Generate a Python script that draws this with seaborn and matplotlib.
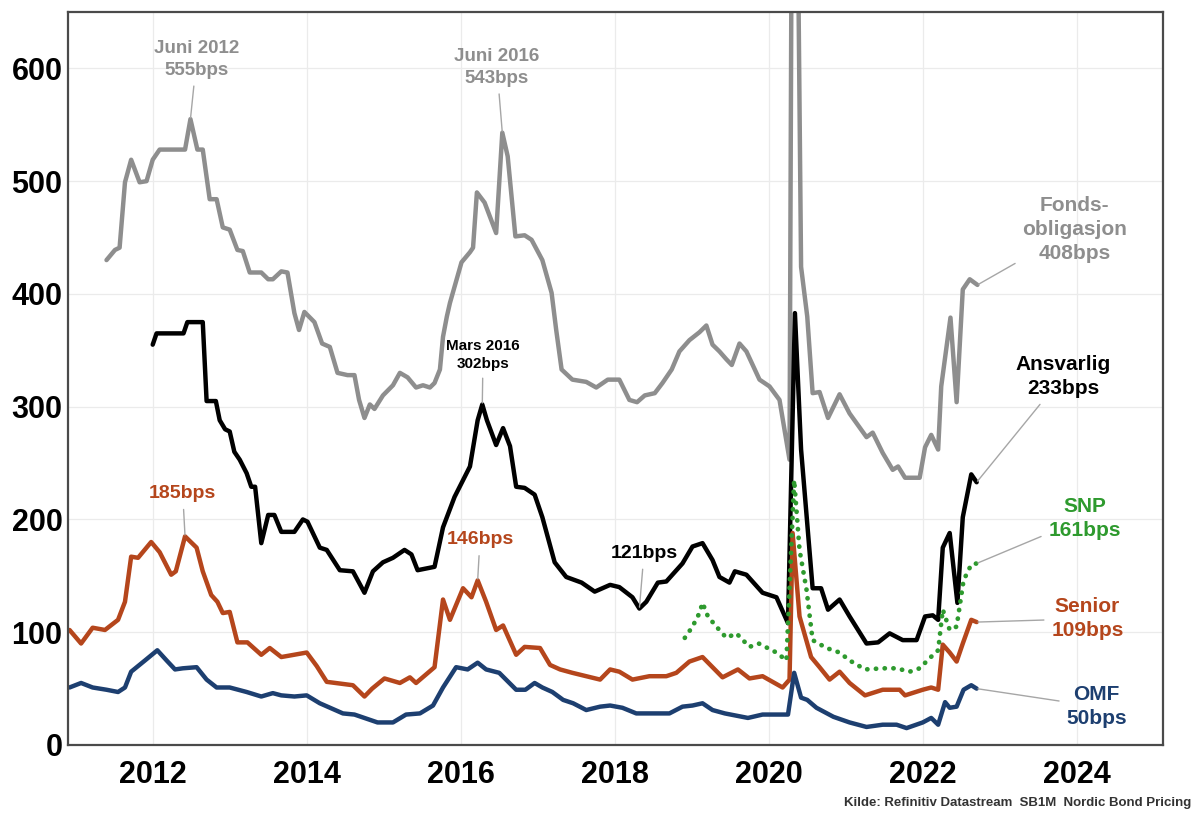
import matplotlib
matplotlib.use("Agg")
import matplotlib.pyplot as plt
import pandas as pd
import seaborn as sns

# Credit spreads (bps) for Norwegian bank bonds, decimal-year dates
fonds_x = [2011.40, 2011.51, 2011.57, 2011.64, 2011.72, 2011.83, 2011.92, 2012.00, 2012.09, 2012.42,
           2012.49, 2012.58, 2012.65, 2012.74, 2012.83, 2012.91, 2013.00, 2013.10, 2013.17, 2013.26,
           2013.41, 2013.50, 2013.56, 2013.67, 2013.75, 2013.84, 2013.90, 2013.97,
           2014.10, 2014.20, 2014.30, 2014.40, 2014.53, 2014.62, 2014.68, 2014.75, 2014.82, 2014.88,
           2014.99, 2015.12, 2015.21, 2015.31, 2015.42, 2015.51, 2015.60, 2015.66, 2015.73, 2015.77,
           2015.82, 2015.86,
           2016.01, 2016.12, 2016.16, 2016.21, 2016.31, 2016.46, 2016.54, 2016.61, 2016.71, 2016.83,
           2016.92, 2017.06, 2017.18, 2017.24, 2017.31, 2017.45, 2017.63, 2017.76, 2017.91, 2018.06,
           2018.19,
           2018.29, 2018.39, 2018.52, 2018.62, 2018.74, 2018.84, 2018.97, 2019.10, 2019.19, 2019.27,
           2019.36, 2019.45, 2019.52, 2019.62, 2019.71,
           2019.88, 2020.01, 2020.14, 2020.27, 2020.30, 2020.37, 2020.42, 2020.50, 2020.57, 2020.66,
           2020.77, 2020.92, 2021.05, 2021.27, 2021.35, 2021.48, 2021.61, 2021.68, 2021.77, 2021.96,
           2022.03, 2022.11, 2022.20, 2022.24, 2022.36, 2022.44, 2022.52, 2022.61, 2022.71]
fonds_y = [430, 439, 441, 499, 519, 499, 500, 519, 528, 528,
           555, 528, 528, 484, 484, 459, 457, 439, 438, 419,
           419, 413, 413, 420, 419, 383, 368, 384,
           375, 356, 353, 330, 328, 328, 306, 290, 302, 298,
           310, 319, 330, 326, 317, 319, 317, 321, 333, 362,
           380, 392,
           428, 437, 441, 490, 481, 454, 543, 522, 451, 452,
           448, 430, 401, 368, 333, 324, 322, 317, 324, 324,
           306,
           304, 310, 312, 321, 333, 349, 359, 366, 372, 355,
           349, 342, 337, 356, 349,
           324, 318, 306, 253, 780, 780, 424, 380, 312, 313,
           290, 311, 294, 273, 277, 259, 244, 247, 237, 237,
           264, 275, 262, 318, 379, 304, 404, 413, 408]

ansv_x = [2012.00, 2012.05, 2012.40, 2012.45, 2012.65, 2012.70, 2012.82, 2012.87, 2012.94, 2013.00,
          2013.06, 2013.13, 2013.22, 2013.28, 2013.33, 2013.41, 2013.50, 2013.58, 2013.67, 2013.84,
          2013.95, 2014.01, 2014.17, 2014.26, 2014.43, 2014.60, 2014.75, 2014.86, 2014.99, 2015.12,
          2015.27, 2015.36, 2015.44, 2015.66, 2015.77, 2015.92, 2016.12, 2016.22, 2016.28, 2016.34,
          2016.46, 2016.55, 2016.64, 2016.72, 2016.83, 2016.96, 2017.06, 2017.22, 2017.37, 2017.57,
          2017.74, 2017.94, 2018.06, 2018.23, 2018.32, 2018.41, 2018.56, 2018.67, 2018.88, 2019.01,
          2019.14, 2019.27, 2019.36, 2019.49, 2019.56, 2019.71, 2019.92, 2020.10, 2020.25, 2020.34,
          2020.42, 2020.57, 2020.68, 2020.77, 2020.92, 2021.05, 2021.27, 2021.42, 2021.57, 2021.74,
          2021.92, 2022.03, 2022.13, 2022.20, 2022.26, 2022.35, 2022.45, 2022.52, 2022.63, 2022.70]
ansv_y = [355, 365, 365, 375, 375, 305, 305, 288, 280, 278,
          260, 253, 241, 229, 229, 179, 204, 204, 189, 189,
          200, 198, 175, 173, 155, 154, 135, 154, 162, 166,
          173, 169, 155, 158, 193, 220, 247, 288, 302, 288,
          266, 281, 265, 229, 228, 222, 202, 162, 149, 144,
          136, 142, 140, 131, 121, 127, 144, 145, 161, 176,
          179, 164, 149, 144, 154, 151, 135, 131, 108, 383,
          262, 139, 139, 120, 129, 114, 90, 91, 99, 93,
          93, 114, 115, 111, 175, 188, 126, 202, 240, 233]

senior_x = [2010.92, 2011.07, 2011.22, 2011.38, 2011.55, 2011.64, 2011.72, 2011.81, 2011.98, 2012.09,
            2012.24, 2012.30, 2012.42, 2012.57, 2012.65, 2012.76, 2012.84, 2012.91, 2013.00, 2013.10,
            2013.23, 2013.41, 2013.52, 2013.67, 2014.00, 2014.13, 2014.26, 2014.60, 2014.75, 2014.85,
            2015.01, 2015.21, 2015.34, 2015.42, 2015.66, 2015.77, 2015.86, 2016.03, 2016.14, 2016.22,
            2016.33, 2016.46, 2016.55, 2016.72, 2016.83, 2017.03, 2017.16, 2017.29, 2017.45, 2017.63,
            2017.81, 2017.94, 2018.06, 2018.23, 2018.45, 2018.67, 2018.80, 2018.97, 2019.14, 2019.27,
            2019.40, 2019.60, 2019.75, 2019.92, 2020.18, 2020.27, 2020.31, 2020.40, 2020.55, 2020.66,
            2020.79, 2020.92, 2021.05, 2021.25, 2021.48, 2021.70, 2021.77, 2022.00, 2022.11, 2022.20,
            2022.26, 2022.35, 2022.44, 2022.52, 2022.63, 2022.70]
senior_y = [102, 90, 104, 102, 111, 127, 167, 166, 180, 171,
            151, 154, 185, 175, 154, 133, 127, 117, 118, 91,
            91, 80, 86, 78, 82, 70, 56, 53, 43, 50,
            59, 55, 60, 55, 69, 129, 111, 139, 131, 146,
            127, 102, 106, 80, 87, 86, 71, 67, 64, 61,
            58, 67, 65, 58, 61, 61, 64, 74, 78, 69,
            60, 67, 59, 61, 51, 58, 188, 114, 78, 69,
            58, 65, 55, 44, 49, 49, 44, 49, 51, 49,
            89, 82, 74, 90, 111, 109]

snp_x = [2018.91, 2019.01, 2019.10, 2019.14, 2019.21, 2019.32, 2019.45, 2019.58, 2019.75, 2019.87,
         2020.10, 2020.23, 2020.33, 2020.40, 2020.49, 2020.57, 2020.75, 2020.92, 2021.05, 2021.25,
         2021.48, 2021.66, 2021.83, 2021.96, 2022.09, 2022.20, 2022.26, 2022.35, 2022.44, 2022.53,
         2022.63, 2022.70]
snp_y = [95, 105, 117, 126, 114, 105, 95, 99, 87, 90,
         82, 75, 235, 173, 138, 93, 86, 82, 75, 67,
         68, 68, 65, 68, 77, 84, 120, 102, 105, 146,
         160, 161]

omf_x = [2010.92, 2011.07, 2011.22, 2011.40, 2011.55, 2011.64, 2011.72, 2011.90, 2012.06, 2012.18,
         2012.29, 2012.39, 2012.57, 2012.70, 2012.83, 2013.00, 2013.22, 2013.41, 2013.56, 2013.67,
         2013.84, 2014.00, 2014.17, 2014.47, 2014.62, 2014.92, 2015.12, 2015.29, 2015.47, 2015.64,
         2015.77, 2015.94, 2016.09, 2016.22, 2016.33, 2016.50, 2016.72, 2016.84, 2016.96, 2017.06,
         2017.19, 2017.33, 2017.46, 2017.63, 2017.81, 2017.94, 2018.10, 2018.28, 2018.50, 2018.71,
         2018.88, 2019.01, 2019.14, 2019.27, 2019.43, 2019.73, 2019.92, 2020.10, 2020.25, 2020.33,
         2020.42, 2020.50, 2020.62, 2020.84, 2021.05, 2021.27, 2021.48, 2021.66, 2021.79, 2022.00,
         2022.11, 2022.20, 2022.29, 2022.35, 2022.44, 2022.53, 2022.63, 2022.70]
omf_y = [51, 55, 51, 49, 47, 51, 65, 75, 84, 75,
         67, 68, 69, 58, 51, 51, 47, 43, 46, 44,
         43, 44, 37, 28, 27, 20, 20, 27, 28, 35,
         51, 69, 67, 73, 67, 64, 49, 49, 55, 51,
         47, 40, 37, 31, 34, 35, 33, 28, 28, 28,
         34, 35, 37, 31, 28, 24, 27, 27, 27, 64,
         42, 40, 33, 25, 20, 16, 18, 18, 15, 20,
         24, 18, 38, 33, 34, 49, 53, 50]

year_ticks = [2012, 2014, 2016, 2018, 2020, 2022, 2024]
bps_ticks = [0, 100, 200, 300, 400, 500, 600]

GREY = "#8e8e8e"
BLACK = "#000000"
ORANGE = "#b5461c"
NAVY = "#1d3f70"
GREEN = "#2e9a2e"
LEADER = "#a6a6a6"

sns.set_theme(style="whitegrid")
plt.rcParams["font.family"] = ["Liberation Sans", "DejaVu Sans"]

fig = plt.figure(figsize=(11.95, 8.19), dpi=100)
ax = fig.add_axes([68 / 1195, 74 / 819, (1163 - 68) / 1195, (745 - 12) / 819])


def draw(xs, ys, color, **kw):
    df = pd.DataFrame({"year": xs, "bps": ys})
    sns.lineplot(data=df, x="year", y="bps", ax=ax, color=color, sort=False,
                 estimator=None, linewidth=kw.pop("linewidth", 3.2), **kw)


draw(fonds_x, fonds_y, GREY, solid_joinstyle="round")
draw(ansv_x, ansv_y, BLACK, solid_joinstyle="round")
draw(senior_x, senior_y, ORANGE, solid_joinstyle="round")
draw(omf_x, omf_y, NAVY, solid_joinstyle="round")
draw(snp_x, snp_y, GREEN, linewidth=3.4, linestyle=(0, (0.05, 1.8)),
     dash_capstyle="round")

ax.set_xlim(2010.9, 2025.12)
ax.set_ylim(0, 650)
ax.set_xticks(year_ticks)
ax.set_xticklabels([str(y) for y in year_ticks])
ax.set_yticks(bps_ticks)
ax.set_yticklabels([str(v) for v in bps_ticks])
ax.set_xlabel("")
ax.set_ylabel("")
ax.tick_params(axis="both", labelsize=22, length=0, colors="black")
ax.tick_params(axis="x", pad=11)
ax.tick_params(axis="y", pad=4)
for lbl in ax.get_xticklabels() + ax.get_yticklabels():
    lbl.set_fontweight("bold")

ax.grid(True, color="#ebebeb", linewidth=0.9)
for side in ax.spines.values():
    side.set_visible(True)
    side.set_color("#4a4a4a")
    side.set_linewidth(1.6)


def note(text, point, where, color, size=13.5):
    ax.annotate(text, xy=point, xytext=where, color=color, fontsize=size,
                fontweight="bold", ha="center", va="center", linespacing=1.35,
                arrowprops=dict(arrowstyle="-", color=LEADER, lw=1.0,
                                shrinkA=3, shrinkB=1))


note("Juni 2012\n555bps", (2012.49, 555), (2012.57, 608), GREY)
note("Juni 2016\n543bps", (2016.54, 543), (2016.47, 601), GREY)
note("Mars 2016\n302bps", (2016.28, 302), (2016.29, 346), BLACK, size=11)
note("185bps", (2012.42, 185), (2012.39, 223), ORANGE, size=14)
note("146bps", (2016.22, 146), (2016.25, 182), ORANGE, size=14)
note("121bps", (2018.32, 121), (2018.38, 170), BLACK, size=14)
note("Fonds-\nobligasjon\n408bps", (2022.71, 408), (2023.97, 457), GREY, size=15)
note("Ansvarlig\n233bps", (2022.70, 233), (2023.82, 327), BLACK, size=15)
note("SNP\n161bps", (2022.70, 161), (2024.10, 201), GREEN, size=15)
note("Senior\n109bps", (2022.70, 109), (2024.14, 112), ORANGE, size=15)
note("OMF\n50bps", (2022.70, 50), (2024.26, 34), NAVY, size=15)

fig.text(0.997, 0.012, "Kilde: Refinitiv Datastream  SB1M  Nordic Bond Pricing",
         ha="right", va="bottom", fontsize=9.5, fontweight="bold", color="#333333")

fig.savefig("out.png", dpi=100, facecolor="white")
